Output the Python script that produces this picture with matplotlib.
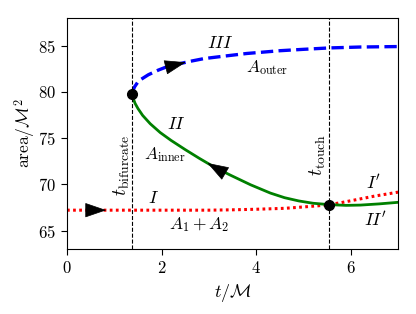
import numpy as np
import matplotlib
matplotlib.use('Agg')
import matplotlib.pyplot as plt

plt.rcParams['font.family'] = 'serif'
plt.rcParams['font.serif'] = ['cmr10']
plt.rcParams['mathtext.fontset'] = 'cm'
plt.rcParams['axes.formatter.use_mathtext'] = True
plt.rcParams['font.size'] = 12

##### data
t_outer = [1.38, 1.40, 1.43, 1.49, 1.55, 1.72, 1.93, 2.08, 2.3, 2.6, 2.9, 3.3, 3.8, 4.5, 5.0, 5.54, 6.2, 7.0]
a_outer = [79.8, 80.2, 80.55, 81.0, 81.3, 81.85, 82.35, 82.65, 82.95, 83.3, 83.6, 83.85, 84.15, 84.45, 84.6, 84.75, 84.85, 84.9]

t_inner = [1.38, 1.40, 1.44, 1.50, 1.60, 1.76, 1.97, 2.2, 2.5, 2.8, 3.1, 3.45, 3.88, 4.3, 4.6, 4.9, 5.2, 5.54, 5.9, 6.2, 6.6, 7.0]
a_inner = [79.8, 79.3, 78.75, 78.2, 77.45, 76.55, 75.6, 74.75, 73.75, 72.8, 71.9, 71.0, 69.95, 69.05, 68.55, 68.2, 67.95, 67.8, 67.72, 67.75, 67.88, 68.05]

t_sum = [0.0, 1.0, 2.0, 3.0, 3.5, 4.0, 4.6, 5.0, 5.3, 5.54, 5.8, 6.0, 6.5, 7.0]
a_sum = [67.2, 67.2, 67.2, 67.2, 67.24, 67.3, 67.4, 67.55, 67.67, 67.8, 68.02, 68.22, 68.72, 69.15]

t_bifurcate, a_bifurcate = 1.38, 79.8
t_touch, a_touch = 5.54, 67.8

fig = plt.figure(figsize=(4.16, 3.14), dpi=100)
ax = fig.add_axes([0.161, 0.207, 0.796, 0.736])

ax.plot(t_sum, a_sum, color='red', lw=2.2, linestyle=(0, (0.9, 1.1)))
ax.plot(t_outer, a_outer, color='blue', lw=2.4, linestyle='--')
ax.plot(t_inner, a_inner, color='green', lw=2.0)

ax.axvline(t_bifurcate, color='k', lw=0.8, ls='--')
ax.axvline(t_touch, color='k', lw=0.8, ls='--')

ax.plot([t_bifurcate, t_touch], [a_bifurcate, a_touch], 'o', color='k', ms=7)

# direction arrows (tail, tip)
arrows = [((0.42, 67.2), (0.83, 67.2)),
          ((2.12, 82.7), (2.51, 83.2)),
          ((3.32, 71.25), (2.97, 72.3))]
for tail, tip in arrows:
    ax.annotate('', xy=tip, xytext=tail,
                arrowprops=dict(arrowstyle='-|>,head_length=0.7,head_width=0.24',
                                mutation_scale=20, fc='k', ec='k', lw=0.5,
                                shrinkA=0, shrinkB=0))

ax.text(3.24, 85.3, r'$III$', ha='center', va='center', fontsize=13)
ax.text(4.23, 82.6, r'$A_{\rm outer}$', ha='center', va='center', fontsize=12.5)
ax.text(2.32, 76.5, r'$II$', ha='center', va='center', fontsize=13)
ax.text(2.06, 73.2, r'$A_{\rm inner}$', ha='center', va='center', fontsize=12.5)
ax.text(1.83, 68.55, r'$I$', ha='center', va='center', fontsize=13)
ax.text(2.8, 65.7, r'$A_1 + A_2$', ha='center', va='center', fontsize=12.5)
ax.text(6.49, 70.2, r"$I'$", ha='center', va='center', fontsize=13)
ax.text(6.52, 66.2, r"$II'$", ha='center', va='center', fontsize=13)
ax.text(1.16, 72.0, r'$t_{\rm bifurcate}$', rotation=90, ha='center', va='center', fontsize=14)
ax.text(5.30, 73.2, r'$t_{\rm touch}$', rotation=90, ha='center', va='center', fontsize=14)

ax.set_xlim(0, 7)
ax.set_ylim(63, 88)
ax.set_xticks([0, 2, 4, 6])
ax.set_yticks([65, 70, 75, 80, 85])
ax.tick_params(length=4.5)
ax.set_xlabel(r'$t/\mathcal{M}$', fontsize=13)
ax.set_ylabel(r'area$/\mathcal{M}^2$', fontsize=12.5, labelpad=0)

plt.savefig('out.png', dpi=100)
